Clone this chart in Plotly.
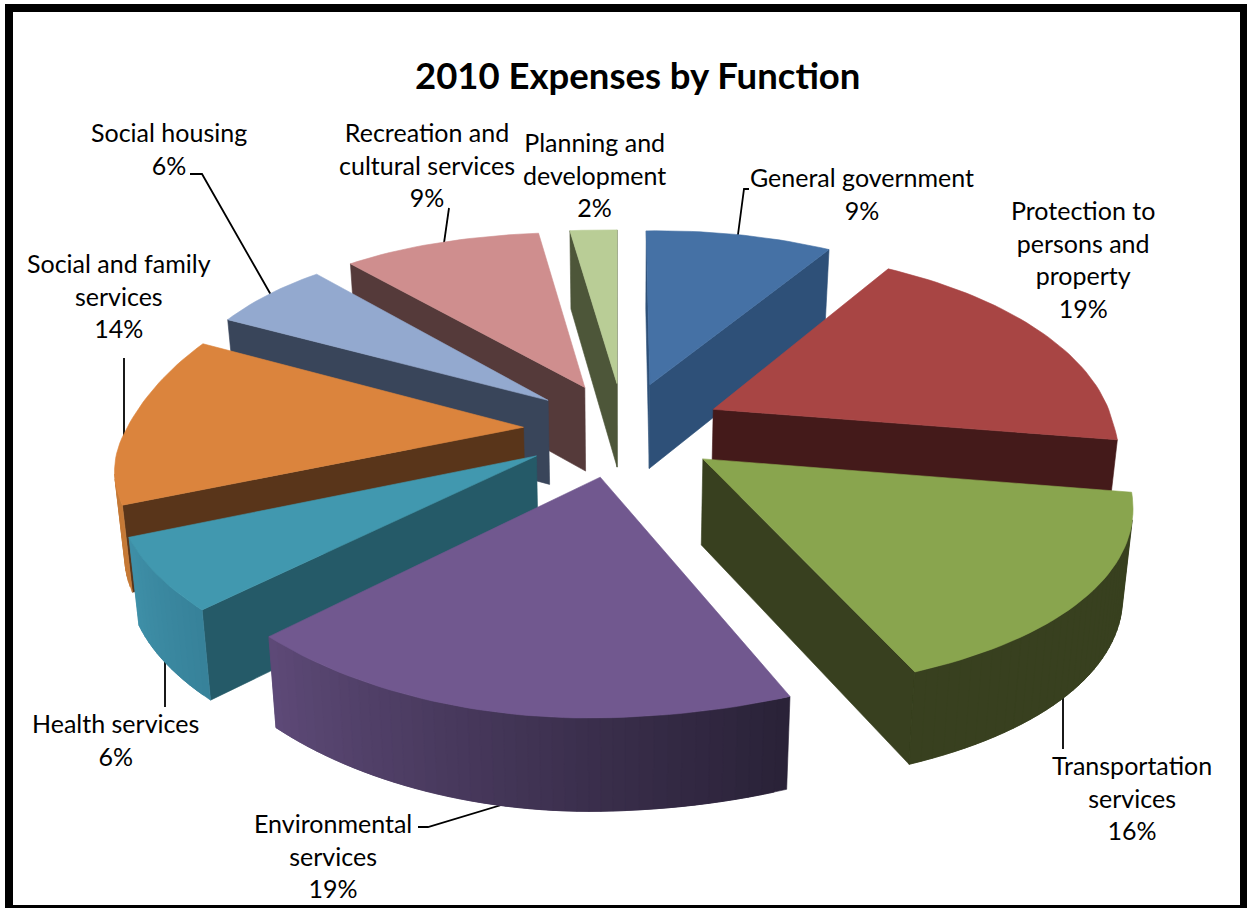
import math
import plotly.graph_objects as go

# Share of 2010 expenses by function, clockwise from twelve o'clock
categories = ["General government", "Protection to persons and property",
              "Transportation services", "Environmental services", "Health services",
              "Social and family services", "Social housing",
              "Recreation and cultural services", "Planning and development"]
values = [9, 19, 16, 19, 6, 14, 6, 9, 2]
label_lines = [["General government"], ["Protection to", "persons and", "property"],
               ["Transportation", "services"], ["Environmental", "services"], ["Health services"],
               ["Social and family", "services"], ["Social housing"],
               ["Recreation and", "cultural services"], ["Planning and", "development"]]

# Slice colours: top face, cut face, rim at start angle, rim at end angle
top_colors = ["#4571A5", "#A84544", "#89A54E", "#71588F", "#4198AF", "#DB843D", "#93A9CF", "#CF8E8E", "#B9CD96"]
cut_colors = ["#2E5078", "#441A1A", "#38401F", "#2A2238", "#255A68", "#59351A", "#39455A", "#553A3A", "#4D5639"]
rim_start = ["#2E5078", "#441A1A", "#38401F", "#2A2238", "#37829A", "#C67A38", "#39455A", "#553A3A", "#4D5639"]
rim_end = ["#2E5078", "#441A1A", "#38401F", "#5E4A78", "#3F90A8", "#C67A38", "#39455A", "#553A3A", "#4D5639"]

# Label centres and leader lines, in the page's pixel space
label_x = [862, 1083, 1132, 333, 115, 119, 169, 427, 594]
label_y = [193, 259, 797, 855, 739, 295, 148, 164, 174]
leaders = [[(749, 189), (744, 189), (737, 242)], [], [(1063, 675), (1063, 749)],
           [(418, 827), (428, 827), (518, 800)], [(165, 655), (165, 707)],
           [(124, 440), (124, 358)], [(190, 174), (202, 174), (275, 302)],
           [(449, 208), (443, 250)], []]

# Projection of the tilted pie
CENTER_X, CENTER_Y = 623, 429
EXPLODE = 0.25
SCALE_X, DEPTH_X = 400, 5.06
SCALE_Y, DEPTH_Y = 189, 6.7
SHEAR_FRONT_LEFT, SHEAR_BACK_LEFT = 44, 36
SPREAD_RIGHT = 10
TILT, LIFT_BACK_LEFT = 5, 6
THICKNESS, DEPTH_Z = 85, 8.7
BOTTOM_SHRINK = 0.98
FONT = "Lato"


def project(x, y, bottom=False):
    shear = SHEAR_BACK_LEFT if y > 0 else SHEAR_FRONT_LEFT
    dx = (SCALE_X * x / (1 + y / DEPTH_X) + shear * min(x, 0) * y * abs(y)
          + SPREAD_RIGHT * max(x, 0) * abs(y))
    dy = -SCALE_Y * y / (1 + y / DEPTH_Y) - TILT * x + LIFT_BACK_LEFT * min(x, 0) * max(y, 0)
    if not bottom:
        return CENTER_X + dx, CENTER_Y + dy
    return (CENTER_X + dx * BOTTOM_SHRINK,
            CENTER_Y + dy * BOTTOM_SHRINK + THICKNESS / (1 + y / DEPTH_Z))


def mix(c0, c1, t):
    a = [int(c0[i:i + 2], 16) for i in (1, 3, 5)]
    b = [int(c1[i:i + 2], 16) for i in (1, 3, 5)]
    return "rgb(%d,%d,%d)" % tuple(round(p + (q - p) * t) for p, q in zip(a, b))


def signed_area(pts):
    return sum(pts[i][0] * pts[(i + 1) % len(pts)][1] - pts[(i + 1) % len(pts)][0] * pts[i][1]
               for i in range(len(pts))) / 2


def polygon(pts, color):
    return go.Scatter(x=[p[0] for p in pts] + [pts[0][0]], y=[p[1] for p in pts] + [pts[0][1]],
                      mode="lines", fill="toself", fillcolor=color,
                      line=dict(color=color, width=0.6), hoverinfo="skip", showlegend=False)


total = sum(values)
wedges = []
running = 0
for i, v in enumerate(values):
    a0 = 2 * math.pi * running / total
    a1 = 2 * math.pi * (running + v) / total
    running += v
    wedges.append((i, a0, a1, (a0 + a1) / 2))

fig = go.Figure()

# Leader lines run under the slices so they end exactly on the slice edge
for path in leaders:
    if path:
        fig.add_trace(go.Scatter(x=[p[0] for p in path], y=[p[1] for p in path], mode="lines",
                                 line=dict(color="black", width=1.8), hoverinfo="skip", showlegend=False))

for i, a0, a1, mid in sorted(wedges, key=lambda w: -math.cos(w[3])):
    ox, oy = EXPLODE * math.sin(mid), EXPLODE * math.cos(mid)
    n = max(2, int(math.degrees(a1 - a0) / 1.5))
    angles = [a0 + (a1 - a0) * k / n for k in range(n + 1)]
    world = [(ox + math.sin(a), oy + math.cos(a)) for a in angles]
    top_arc = [project(*w) for w in world]
    bot_arc = [project(*w, bottom=True) for w in world]
    apex_t, apex_b = project(ox, oy), project(ox, oy, bottom=True)

    # Faces turned away from the viewer are skipped, the rest go back to front
    for face in ([apex_t, top_arc[0], bot_arc[0], apex_b], [top_arc[-1], apex_t, apex_b, bot_arc[-1]]):
        if signed_area(face) < 0:
            fig.add_trace(polygon(face, cut_colors[i]))
    # Rim bands overlap their neighbour so no seam shows between them
    for k in range(n):
        face = [top_arc[k], top_arc[k + 1], bot_arc[k + 1], bot_arc[k]]
        if signed_area(face) < 0:
            e = min(k + 2, n)
            band = top_arc[k:e + 1] + bot_arc[k:e + 1][::-1]
            fig.add_trace(polygon(band, mix(rim_start[i], rim_end[i], k / n)))
    fig.add_trace(polygon([apex_t] + top_arc, top_colors[i]))

annotations = [dict(x=637, y=75, xref="x", yref="y", text="<b>2010 Expenses by Function</b>",
                    showarrow=False, font=dict(family=FONT, size=36.5, color="black"))]
for i, v in enumerate(values):
    text = "<br>".join(label_lines[i] + ["%d%%" % v])
    annotations.append(dict(x=label_x[i], y=label_y[i], xref="x", yref="y", text=text, showarrow=False,
                            align="center", font=dict(family=FONT, size=25, color="black")))

fig.update_layout(
    width=1247, height=908, margin=dict(l=0, r=0, t=0, b=0),
    paper_bgcolor="white", plot_bgcolor="white",
    xaxis=dict(range=[0, 1247], visible=False, fixedrange=True),
    yaxis=dict(range=[908, 0], visible=False, fixedrange=True),
    annotations=annotations,
    shapes=[dict(type="rect", xref="x", yref="y", x0=9, y0=8, x1=1244, y1=909,
                 line=dict(color="black", width=8))],
)
fig.write_html("out.html")
